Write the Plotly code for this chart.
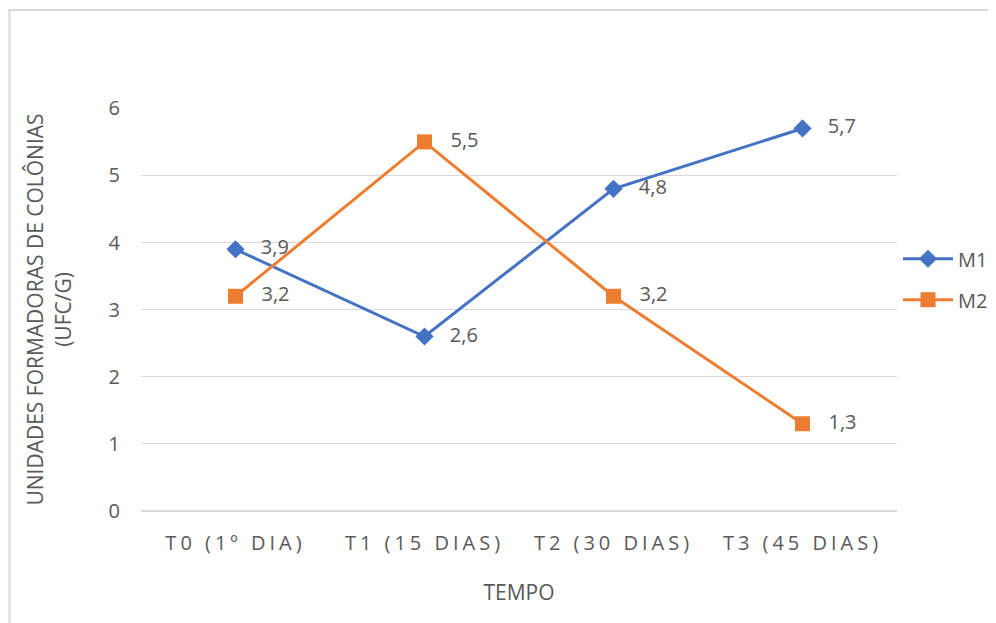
import plotly.graph_objects as go

categories = ["T0 (1º DIA)", "T1 (15 DIAS)", "T2 (30 DIAS)", "T3 (45 DIAS)"]
m1_values = [3.9, 2.6, 4.8, 5.7]
m2_values = [3.2, 5.5, 3.2, 1.3]
y_ticks = [0, 1, 2, 3, 4, 5, 6]

def fmt(v):
    return f"{v:.1f}".replace(".", ",")

FONT = "Open Sans, sans-serif"
GRAY = "#595959"

fig = go.Figure()
fig.add_trace(go.Scatter(
    x=categories, y=m1_values, name="M1", legendgroup="m1", mode="lines+markers+text",
    line=dict(color="#4472C4", width=3),
    marker=dict(symbol="diamond", size=14, color="#4472C4"),
    text=["   " + fmt(v) for v in m1_values], textposition="middle right",
    textfont=dict(size=20, color=GRAY, family=FONT),
))
fig.add_trace(go.Scatter(
    x=categories, y=m2_values, name="M2", legendgroup="m2", mode="lines+markers+text",
    line=dict(color="#ED7D31", width=3),
    marker=dict(symbol="square", size=15, color="#ED7D31"),
    text=["   " + fmt(v) for v in m2_values], textposition="middle right",
    textfont=dict(size=20, color=GRAY, family=FONT),
))

fig.update_layout(
    width=996, height=623,
    margin=dict(l=133, r=106, t=100, b=120),
    paper_bgcolor="white", plot_bgcolor="white",
    font=dict(family=FONT, color=GRAY, size=20),
    showlegend=True,
    legend=dict(x=1.0, y=0.575, xanchor="left", yanchor="middle",
                font=dict(size=20, color=GRAY, family=FONT),
                itemwidth=50, tracegroupgap=12),
    xaxis=dict(type="category", range=[-0.5, 3.5], showgrid=False,
               showline=False, ticks="", tickfont=dict(size=20, color=GRAY),
               ticklabelstandoff=18,
               title=dict(text="TEMPO", font=dict(size=21, color=GRAY), standoff=30)),
    yaxis=dict(range=[0, 6.005], tickvals=y_ticks, showgrid=True, gridcolor="#D9D9D9",
               gridwidth=1, zeroline=True, zerolinecolor="#D9D9D9", showline=False,
               tickfont=dict(size=20, color=GRAY), ticklabelstandoff=20,
               title=dict(text="UNIDADES FORMADORAS DE COLÔNIAS<br>(UFC/G)",
                          font=dict(size=21, color=GRAY), standoff=31)),
)

fig.add_shape(type="rect", xref="paper", yref="paper",
              x0=-0.174, x1=1.2, y0=-0.4, y1=1.243,
              line=dict(color="#D9D9D9", width=2), fillcolor="rgba(0,0,0,0)", layer="below")

post = ("document.querySelectorAll('.xtick text').forEach(function(t){"
        "t.style.letterSpacing='4px';});")
fig.write_html("out.html", post_script=post)
